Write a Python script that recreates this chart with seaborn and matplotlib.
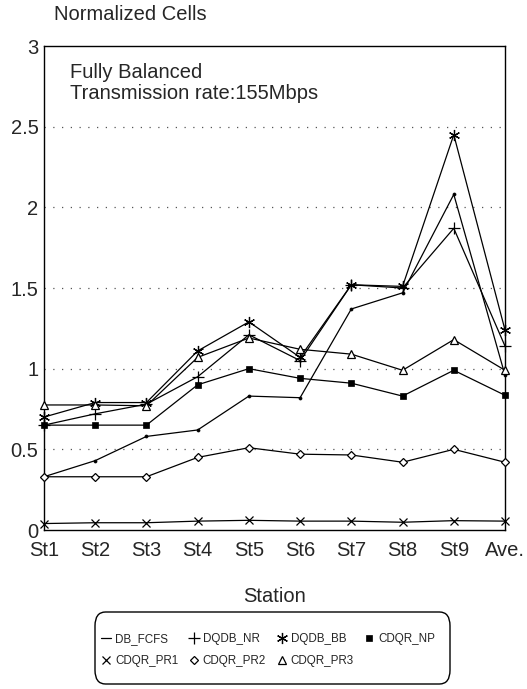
import matplotlib
matplotlib.use("Agg")
import matplotlib.pyplot as plt
import seaborn as sns
import pandas as pd
from matplotlib.lines import Line2D
from matplotlib.patches import FancyBboxPatch

stations = ['St1', 'St2', 'St3', 'St4', 'St5', 'St6', 'St7', 'St8', 'St9', 'Ave.']
db_fcfs = [0.33, 0.43, 0.58, 0.62, 0.83, 0.82, 1.37, 1.47, 2.08, 0.96]
dqdb_nr = [0.65, 0.72, 0.78, 0.95, 1.21, 1.05, 1.52, 1.50, 1.87, 1.14]
dqdb_bb = [0.70, 0.79, 0.79, 1.11, 1.29, 1.07, 1.52, 1.51, 2.45, 1.24]
cdqr_np = [0.65, 0.65, 0.65, 0.90, 1.00, 0.94, 0.91, 0.83, 0.99, 0.835]
cdqr_pr1 = [0.04, 0.045, 0.045, 0.055, 0.06, 0.055, 0.055, 0.048, 0.058, 0.055]
cdqr_pr2 = [0.33, 0.33, 0.33, 0.45, 0.51, 0.47, 0.465, 0.42, 0.50, 0.42]
cdqr_pr3 = [0.775, 0.775, 0.77, 1.07, 1.19, 1.12, 1.09, 0.99, 1.18, 0.99]
series_names = ['DB_FCFS', 'DQDB_NR', 'DQDB_BB', 'CDQR_NP', 'CDQR_PR1', 'CDQR_PR2', 'CDQR_PR3']
series_vals = [db_fcfs, dqdb_nr, dqdb_bb, cdqr_np, cdqr_pr1, cdqr_pr2, cdqr_pr3]
yticks = [0, 0.5, 1, 1.5, 2, 2.5, 3]
ytick_labels = ['0', '0.5', '1', '1.5', '2', '2.5', '3']

rows = []
for name, vals in zip(series_names, series_vals):
    for i, (st, v) in enumerate(zip(stations, vals)):
        rows.append({'series': name, 'x': i, 'station': st, 'value': v})
df = pd.DataFrame(rows)

sns.set_style('white')
plt.rcParams['font.family'] = ['Liberation Sans', 'DejaVu Sans']

styles = {
    'DB_FCFS': dict(marker='o', markersize=2.2, markerfacecolor='black', markeredgewidth=0.5),
    'DQDB_NR': dict(marker='+', markersize=8, markeredgewidth=0.9),
    'DQDB_BB': dict(marker=(6, 2, 0), markersize=8, markeredgewidth=0.9),
    'CDQR_NP': dict(marker='s', markersize=4.2, markerfacecolor='black', markeredgewidth=0.5),
    'CDQR_PR1': dict(marker='x', markersize=6, markeredgewidth=0.9),
    'CDQR_PR2': dict(marker='D', markersize=4.2, markerfacecolor='white', markeredgewidth=0.9),
    'CDQR_PR3': dict(marker='^', markersize=6, markerfacecolor='white', markeredgewidth=0.9),
}

W, H = 527, 689
fig = plt.figure(figsize=(W / 100, H / 100), dpi=100)
ax = fig.add_axes([44 / W, 1 - 530 / H, (505 - 44) / W, (530 - 46) / H])

for name in series_names:
    sub = df[df['series'] == name]
    sns.lineplot(data=sub, x='x', y='value', ax=ax, color='black', linewidth=0.9,
                 markeredgecolor='black', legend=False, clip_on=False, zorder=3,
                 **styles[name])

ax.set_xlim(0, len(stations) - 1)
ax.set_ylim(0, 3)
ax.set_xticks(range(len(stations)))
ax.set_xticklabels(stations, fontsize=14.5)
ax.set_yticks(yticks)
ax.set_yticklabels(ytick_labels, fontsize=14.5)
ax.tick_params(axis='y', length=0, pad=4)
ax.tick_params(axis='x', length=0, pad=8)
for yv in yticks[1:-1]:
    ax.axhline(yv, color='#555555', linestyle=(0, (1, 6)), linewidth=0.9, zorder=1)
for s in ax.spines.values():
    s.set_color('black')
    s.set_linewidth(1.0)
ax.set_xlabel('Station', fontsize=14.5, labelpad=19)
ax.set_ylabel('')

fig.text(54 / W, 1 - 15 / H, 'Normalized Cells', fontsize=14.5, ha='left', va='center')
ax.text(0.056, 0.965, 'Fully Balanced\nTransmission rate:155Mbps', transform=ax.transAxes,
        fontsize=14.5, ha='left', va='top', linespacing=1.15)

handle_map = {}
for name in series_names:
    st = dict(styles[name])
    if name == 'DB_FCFS':
        h = Line2D([], [], color='black', linewidth=0.9)
    else:
        h = Line2D([], [], color='black', linestyle='none', markeredgecolor='black', **st)
    handle_map[name] = h

# order so that matplotlib's column-first filling gives row-wise reading
leg_order = ['DB_FCFS', 'CDQR_PR1', 'DQDB_NR', 'CDQR_PR2', 'DQDB_BB', 'CDQR_PR3', 'CDQR_NP']
leg = fig.legend([handle_map[n] for n in leg_order], leg_order, loc='center',
                 bbox_to_anchor=(268 / W, 1 - 650 / H),
                 ncol=4, frameon=False, fontsize=8.4, handlelength=0.9, handletextpad=0.3,
                 columnspacing=0.9, labelspacing=0.9)

box = FancyBboxPatch((95 / W, 1 - 684 / H), (450 - 95) / W, (684 - 612) / H,
                     boxstyle='round,pad=0,rounding_size=0.02', transform=fig.transFigure,
                     facecolor='none', edgecolor='black', linewidth=1.0)
fig.patches.append(box)

fig.savefig('out.png', dpi=100)
